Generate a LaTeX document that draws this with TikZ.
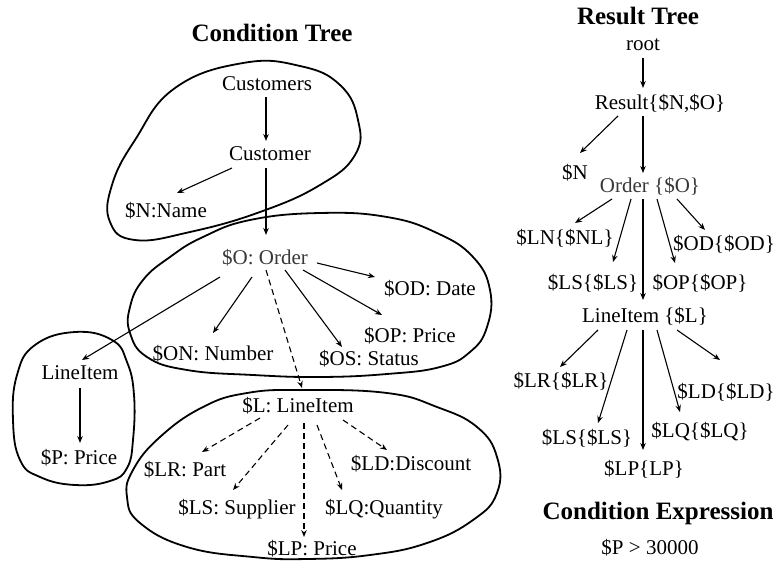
\documentclass[tikz,border=0pt]{standalone}
\usepackage{fontspec}
\setmainfont{Liberation Serif}
\usetikzlibrary{arrows.meta}
\begin{document}
\begin{tikzpicture}[x=1pt,y=-1pt,
  lbl/.style={anchor=base,inner sep=0pt,font=\fontsize{21}{25}\selectfont},
  ttl/.style={anchor=base,inner sep=0pt,font=\fontsize{25}{30}\selectfont\bfseries},
  dim/.style={text=black!78},
  arr/.style={line width=1.1pt,-{Stealth[length=7pt,width=5.5pt]}},
  darr/.style={arr,dash pattern=on 6pt off 4pt},
  blob/.style={line width=1.8pt,smooth cycle,tension=0.75}]
\useasboundingbox (0,0) rectangle (781,562);

% ---------------- condition tree ----------------
\node[ttl] (ctitle) at (272,41) {Condition Tree};
\node[lbl] (cs) at (267,90) {Customers};
\node[lbl] (c) at (270,160) {Customer};
\node[lbl] (n) at (166,217) {\$N:Name};
\node[lbl,dim] (o) at (265,264) {\$O: Order};
\node[lbl] (od) at (430,295) {\$OD: Date};
\node[lbl] (op) at (410,342) {\$OP: Price};
\node[lbl] (on) at (213,360) {\$ON: Number};
\node[lbl] (os) at (369,365) {\$OS: Status};
\node[lbl] (li) at (80,379) {LineItem};
\node[lbl] (p) at (79,464) {\$P: Price};
\node[lbl] (l) at (298,412) {\$L: LineItem};
\node[lbl] (lr) at (185,476) {\$LR: Part};
\node[lbl] (ld) at (411,470) {\$LD:Discount};
\node[lbl] (ls) at (237,514) {\$LS: Supplier};
\node[lbl] (lq) at (384,514) {\$LQ:Quantity};
\node[lbl] (lp) at (312,555) {\$LP: Price};

\draw[arr] ([shift={(-1,7)}]cs.base) -- ([shift={(-4,-19)}]c.base);
\draw[arr] ([shift={(-38,8)}]c.base) -- ([shift={(11,-24)}]n.base);
\draw[arr] ([shift={(-4,8)}]c.base) -- ([shift={(1,-29)}]o.base);
\draw[arr] ([shift={(52,-1)}]o.base) -- ([shift={(-55,-18)}]od.base);
\draw[arr] ([shift={(38,6)}]o.base) -- ([shift={(-28,-27)}]op.base);
\draw[arr] ([shift={(20,6)}]o.base) -- ([shift={(-27,-18)}]os.base);
\draw[arr] ([shift={(-13,13)}]o.base) -- ([shift={(0,-27)}]on.base);
\draw[arr] ([shift={(-45,13)}]o.base) -- ([shift={(2,-19)}]li.base);
\draw[darr] ([shift={(1,6)}]o.base) -- ([shift={(4,-24)}]l.base);
\draw[arr] ([shift={(0,9)}]li.base) -- ([shift={(1,-21)}]p.base);
\draw[darr] ([shift={(-38,6)}]l.base) -- ([shift={(17,-24)}]lr.base);
\draw[darr] ([shift={(-10,13)}]l.base) -- ([shift={(-4,-24)}]ls.base);
\draw[darr] ([shift={(6,11)}]l.base) -- ([shift={(-8,-18)}]lp.base);
\draw[darr] ([shift={(19,13)}]l.base) -- ([shift={(-42,-24)}]lq.base);
\draw[darr] ([shift={(45,8)}]l.base) -- ([shift={(-24,-20)}]ld.base);

% outlines grouping the pattern fragments
\draw[blob] plot coordinates {(243,63) (300,66) (340,85) (358,120) (355,155)
  (320,185) (260,212) (190,232) (135,240) (110,222) (112,185) (135,140) (175,88)};
\draw[blob] plot coordinates {(250,220) (320,213) (387,217) (437,233) (473,257)
  (490,290) (487,327) (470,352) (440,367) (387,374) (320,377) (253,375) (187,370)
  (147,357) (130,333) (130,307) (143,280) (170,257) (203,237)};
\draw[blob] plot coordinates {(303,390) (247,393) (203,407) (160,437) (133,470)
  (127,497) (140,523) (187,547) (253,557) (307,559) (370,555) (427,543) (473,520)
  (497,493) (497,457) (477,427) (437,407) (387,393)};
\draw[blob] plot coordinates {(75,332) (112,340) (127,362) (134,395) (133,440)
  (127,468) (110,481) (75,485) (40,477) (20,460) (13,420) (17,375) (35,345)};

% ---------------- result tree ----------------
\node[ttl] (rtitle) at (638,24) {Result Tree};
\node[lbl] (root) at (643,50) {root};
\node[lbl] (res) at (660,109) {Result\{\$N,\$O\}};
\node[lbl] (nn) at (575,179) {\$N};
\node[lbl,dim] (ord) at (650,192) {Order \{\$O\}};
\node[lbl] (lnr) at (565,244) {\$LN\{\$NL\}};
\node[lbl] (odr) at (724,250) {\$OD\{\$OD\}};
\node[lbl] (lsr) at (593,289) {\$LS\{\$LS\}};
\node[lbl] (opr) at (700,289) {\$OP\{\$OP\}};
\node[lbl] (lir) at (645,322) {LineItem \{\$L\}};
\node[lbl] (lrr) at (561,387) {\$LR\{\$LR\}};
\node[lbl] (ldr) at (726,398) {\$LD\{\$LD\}};
\node[lbl] (lsb) at (587,444) {\$LS\{\$LS\}};
\node[lbl] (lqr) at (700,437) {\$LQ\{\$LQ\}};
\node[lbl] (lpr) at (644,475) {\$LP\{LP\}};

\draw[arr] ([shift={(0,8)}]root.base) -- ([shift={(-17,-21)}]res.base);
\draw[arr] ([shift={(-42,7)}]res.base) -- ([shift={(5,-26)}]nn.base);
\draw[arr] ([shift={(-17,7)}]res.base) -- ([shift={(-7,-19)}]ord.base);
\draw[arr] ([shift={(-38,7)}]ord.base) -- ([shift={(10,-21)}]lnr.base);
\draw[arr] ([shift={(-19,7)}]ord.base) -- ([shift={(20,-27)}]lsr.base);
\draw[arr] ([shift={(-7,7)}]ord.base) -- ([shift={(-2,-22)}]lir.base);
\draw[arr] ([shift={(7,7)}]ord.base) -- ([shift={(-25,-26)}]opr.base);
\draw[arr] ([shift={(27,7)}]ord.base) -- ([shift={(-19,-20)}]odr.base);
\draw[arr] ([shift={(-47,8)}]lir.base) -- ([shift={(-1,-20)}]lrr.base);
\draw[arr] ([shift={(-18,8)}]lir.base) -- ([shift={(11,-21)}]lsb.base);
\draw[arr] ([shift={(-2,8)}]lir.base) -- ([shift={(-1,-25)}]lpr.base);
\draw[arr] ([shift={(12,8)}]lir.base) -- ([shift={(-20,-25)}]lqr.base);
\draw[arr] ([shift={(32,8)}]lir.base) -- ([shift={(-6,-38)}]ldr.base);

% ---------------- condition expression ----------------
\node[ttl] (etitle) at (658,519) {Condition Expression};
\node[lbl] (expr) at (650,554) {\$P > 30000};
\end{tikzpicture}
\end{document}
